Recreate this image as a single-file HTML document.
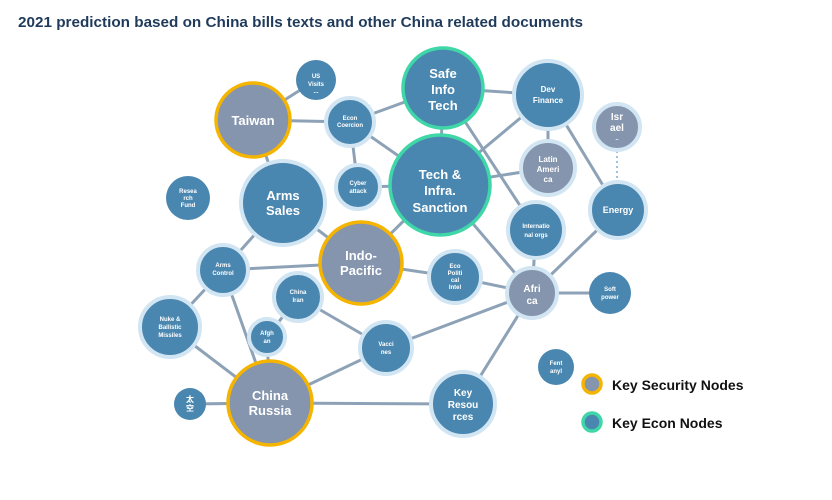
<!DOCTYPE html>
<html><head><meta charset="utf-8"><style>
html,body{margin:0;padding:0;background:#fff;}
svg{display:block;}
text{font-family:"Liberation Sans","Noto Sans CJK SC",sans-serif;fill:#fff;font-weight:bold;text-anchor:middle;}
.e{stroke:#8ea2b7;stroke-width:3;fill:none;}
</style></head><body>
<svg width="832" height="500" viewBox="0 0 832 500" xmlns="http://www.w3.org/2000/svg">
<text x="18" y="27" style="fill:#1f3a5a;text-anchor:start;font-size:14.5px" textLength="565" lengthAdjust="spacingAndGlyphs">2021 prediction based on China bills texts and other China related documents</text>
<g class="e">
<line x1="316" y1="80" x2="253" y2="120"/>
<line x1="253" y1="120" x2="350" y2="122"/>
<line x1="350" y1="122" x2="443" y2="88"/>
<line x1="350" y1="122" x2="358" y2="187"/>
<line x1="350" y1="122" x2="440" y2="185"/>
<line x1="253" y1="120" x2="283" y2="203"/>
<line x1="358" y1="187" x2="440" y2="185"/>
<line x1="443" y1="88" x2="440" y2="185"/>
<line x1="443" y1="88" x2="548" y2="95"/>
<line x1="443" y1="88" x2="536" y2="230"/>
<line x1="548" y1="95" x2="440" y2="185"/>
<line x1="548" y1="95" x2="548" y2="168"/>
<line x1="548" y1="95" x2="618" y2="210"/>
<line x1="440" y1="185" x2="548" y2="168"/>
<line x1="440" y1="185" x2="532" y2="293"/>
<line x1="283" y1="203" x2="361" y2="263"/>
<line x1="440" y1="185" x2="361" y2="263"/>
<line x1="283" y1="203" x2="223" y2="270"/>
<line x1="223" y1="270" x2="361" y2="263"/>
<line x1="361" y1="263" x2="455" y2="277"/>
<line x1="455" y1="277" x2="532" y2="293"/>
<line x1="536" y1="230" x2="532" y2="293"/>
<line x1="618" y1="210" x2="532" y2="293"/>
<line x1="532" y1="293" x2="610" y2="293"/>
<line x1="532" y1="293" x2="386" y2="348"/>
<line x1="532" y1="293" x2="463" y2="404"/>
<line x1="223" y1="270" x2="170" y2="327"/>
<line x1="223" y1="270" x2="270" y2="403"/>
<line x1="298" y1="297" x2="267" y2="337"/>
<line x1="298" y1="297" x2="386" y2="348"/>
<line x1="267" y1="337" x2="270" y2="403"/>
<line x1="170" y1="327" x2="270" y2="403"/>
<line x1="190" y1="404" x2="270" y2="403"/>
<line x1="270" y1="403" x2="386" y2="348"/>
<line x1="270" y1="403" x2="463" y2="404"/>
</g>
<line x1="617" y1="151" x2="617" y2="182" stroke="#9cc3e0" stroke-width="2" stroke-dasharray="2 3"/>
<g stroke="#d2e5f3" stroke-width="4" fill="#4a87b0">
<circle cx="316" cy="80" r="20" stroke="none"/>
<circle cx="350" cy="122" r="24"/>
<circle cx="548" cy="95" r="34"/>
<circle cx="617" cy="127" r="23" fill="#8595ae"/>
<circle cx="548" cy="168" r="27" fill="#8595ae"/>
<circle cx="358" cy="187" r="22"/>
<circle cx="188" cy="198" r="22" stroke="none"/>
<circle cx="283" cy="203" r="42"/>
<circle cx="618" cy="210" r="28"/>
<circle cx="536" cy="230" r="28"/>
<circle cx="223" cy="270" r="25"/>
<circle cx="455" cy="277" r="26"/>
<circle cx="532" cy="293" r="25" fill="#8595ae"/>
<circle cx="610" cy="293" r="21" stroke="none"/>
<circle cx="298" cy="297" r="24"/>
<circle cx="170" cy="327" r="30"/>
<circle cx="267" cy="337" r="18"/>
<circle cx="386" cy="348" r="26"/>
<circle cx="556" cy="367" r="18" stroke="none"/>
<circle cx="190" cy="404" r="16" stroke="none"/>
<circle cx="463" cy="404" r="32"/>
</g>
<g stroke="#f5b400" stroke-width="3.5" fill="#8595ae">
<circle cx="253" cy="120" r="37"/>
<circle cx="361" cy="263" r="41"/>
<circle cx="270" cy="403" r="42"/>
<circle cx="592" cy="384" r="9"/>
</g>
<g stroke="#3fd6a8" stroke-width="3.5" fill="#4a87b0">
<circle cx="443" cy="88" r="40"/>
<circle cx="440" cy="185" r="50"/>
<circle cx="592" cy="422" r="9"/>
</g>
<g style="font-size:6px">
<text x="316" y="78">US</text><text x="316" y="86">Visits</text><text x="316" y="93">...</text>
<text x="350" y="120">Econ</text><text x="350" y="127">Coercion</text>
<text x="358" y="185">Cyber</text><text x="358" y="193">attack</text>
<text x="188" y="193">Resea</text><text x="188" y="200">rch</text><text x="188" y="207">Fund</text>
<text x="223" y="267">Arms</text><text x="223" y="275">Control</text>
<text x="536" y="228">Internatio</text><text x="536" y="237">nal orgs</text>
<text x="455" y="268">Eco</text><text x="455" y="275">Politi</text><text x="455" y="282">cal</text><text x="455" y="289">Intel</text>
<text x="610" y="291">Soft</text><text x="610" y="299">power</text>
<text x="298" y="294">China</text><text x="298" y="302">Iran</text>
<text x="170" y="321">Nuke &amp;</text><text x="170" y="329">Ballistic</text><text x="170" y="337">Missiles</text>
<text x="267" y="335">Afgh</text><text x="267" y="343">an</text>
<text x="386" y="346">Vacci</text><text x="386" y="354">nes</text>
<text x="556" y="365">Fent</text><text x="556" y="373">anyl</text>
</g>
<g style="font-size:8px">
<text x="548" y="92">Dev</text><text x="548" y="103">Finance</text>
<text x="548" y="162">Latin</text><text x="548" y="172">Ameri</text><text x="548" y="182">ca</text>
<text x="618" y="213" style="font-size:9px">Energy</text>
</g>
<g style="font-size:10px">
<text x="617" y="120">Isr</text><text x="617" y="131">ael</text><text x="617" y="140" style="font-size:6px">..</text>
<text x="532" y="292">Afri</text><text x="532" y="304">ca</text>
<text x="463" y="396">Key</text><text x="463" y="408">Resou</text><text x="463" y="420">rces</text>
<text x="190" y="402" style="font-size:8px">太</text><text x="190" y="411" style="font-size:8px">空</text>
</g>
<g style="font-size:13px">
<text x="253" y="125">Taiwan</text>
<text x="283" y="200">Arms</text><text x="283" y="215">Sales</text>
<text x="361" y="260">Indo-</text><text x="361" y="275">Pacific</text>
<text x="270" y="400">China</text><text x="270" y="415">Russia</text>
<text x="443" y="78">Safe</text><text x="443" y="94">Info</text><text x="443" y="110">Tech</text>
<text x="440" y="179">Tech &amp;</text><text x="440" y="195">Infra.</text><text x="440" y="212">Sanction</text>
</g>
<text x="612" y="390" style="fill:#111;text-anchor:start;font-size:14px">Key Security Nodes</text>
<text x="612" y="428" style="fill:#111;text-anchor:start;font-size:14px">Key Econ Nodes</text>
</svg>
</body></html>
